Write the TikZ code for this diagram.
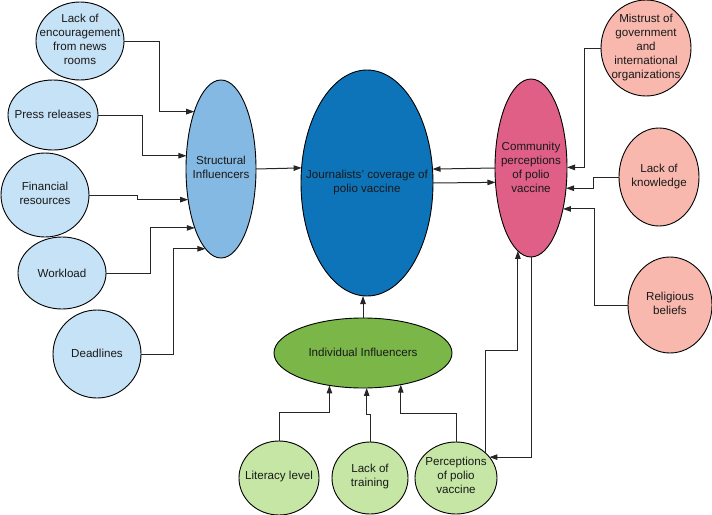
\documentclass[tikz,border=0pt]{standalone}
\usepackage{fontspec}
\setmainfont{Liberation Sans}
\usetikzlibrary{shapes.geometric,arrows.meta}
\definecolor{lblue}{HTML}{C6E2F6}
\definecolor{sblue}{HTML}{84B9E4}
\definecolor{jblue}{HTML}{0E74B9}
\definecolor{cpink}{HTML}{DF5F86}
\definecolor{lpink}{HTML}{F9B8AE}
\definecolor{igreen}{HTML}{7AB648}
\definecolor{lgreen}{HTML}{C6E6A6}
\begin{document}
\begin{tikzpicture}[x=1pt,y=-1pt,
  ell/.style={ellipse,draw=black,line width=0.9pt,inner sep=0pt,outer sep=0pt},
  lbl/.style={align=center,inner sep=0pt,font=\fontsize{11.6}{14}\selectfont,text=black!90},
  arr/.style={draw=black!85,line width=1pt,-{Triangle[length=8pt,width=5.5pt]}}]
\useasboundingbox (0,0) rectangle (712,514);
% left column
\node[ell,fill=lblue,minimum width=88pt,minimum height=78pt] (n1) at (80,41) {};
\node[lbl] (t1) at (80,39) {Lack of\\encouragement\\from news\\rooms};
\node[ell,fill=lblue,minimum width=90pt,minimum height=70pt] (n2) at (53,115) {};
\node[lbl] (t2) at (53,114) {Press releases};
\node[ell,fill=lblue,minimum width=88pt,minimum height=84pt] (n3) at (45,195) {};
\node[lbl] (t3) at (45,193) {Financial\\resources};
\node[ell,fill=lblue,minimum width=88pt,minimum height=72pt] (n4) at (62,273) {};
\node[lbl] (t4) at (62,273) {Workload};
\node[ell,fill=lblue,minimum width=88pt,minimum height=88pt] (n5) at (97,354) {};
\node[lbl] (t5) at (97,353) {Deadlines};
% centre
\node[ell,fill=sblue,minimum width=70pt,minimum height=178pt] (S) at (221,169) {};
\node[lbl] (tS) at (221,167) {Structural\\Influencers};
\node[ell,fill=jblue,minimum width=132pt,minimum height=226pt] (J) at (367,183) {};
\node[lbl] (tJ) at (367,182) {Journalists' coverage of\\polio vaccine};
\node[ell,fill=cpink,minimum width=72pt,minimum height=178pt] (C) at (531,168) {};
\node[lbl] (tC) at (531,167) {Community\\perceptions\\of polio\\vaccine};
% right column
\node[ell,fill=lpink,minimum width=90pt,minimum height=96pt] (M) at (646,48) {};
\node[lbl] (tM) at (646,47) {Mistrust of\\government\\and\\international\\organizations};
\node[ell,fill=lpink,minimum width=80pt,minimum height=98pt] (K) at (659,177) {};
\node[lbl] (tK) at (659,176) {Lack of\\knowledge};
\node[ell,fill=lpink,minimum width=84pt,minimum height=96pt] (R) at (670,305) {};
\node[lbl] (tR) at (670,303) {Religious\\beliefs};
% bottom
\node[ell,fill=igreen,minimum width=178pt,minimum height=70pt] (I) at (363,353) {};
\node[lbl] (tI) at (363,352) {Individual Influencers};
\node[ell,fill=lgreen,minimum width=80pt,minimum height=74pt] (L) at (279,478) {};
\node[lbl] (tL) at (279,476) {Literacy level};
\node[ell,fill=lgreen,minimum width=76pt,minimum height=72pt] (T) at (370,478) {};
\node[lbl] (tT) at (370,476) {Lack of\\training};
\node[ell,fill=lgreen,minimum width=82pt,minimum height=72pt] (P) at (456,478) {};
\node[lbl] (tP) at (456,475) {Perceptions\\of polio\\vaccine};
% connectors left
\draw[arr] (n1.east) -| ([xshift=-35pt]S.115.9) -- (S.115.9);
\draw[arr] (n2.east) -| ([xshift=-43.4pt]S.159.4) -- (S.159.4);
\draw[arr] (n3.east) -| ([xshift=-50.2pt]S.223.4) -- (S.223.4);
\draw[arr] (n4.east) -| ([xshift=-44.1pt]S.246.7) -- (S.246.7);
\draw[arr] (n5.east) -| ([xshift=-31.5pt]S.259.9) -- (S.259.9);
% connectors right
\draw[arr] (M.west) -| ([xshift=17pt]C.1.6) -- (C.1.6);
\draw[arr] (K.west) -| ([xshift=27pt]C.330.3) -- (C.330.3);
\draw[arr] (R.west) -| ([xshift=32pt]C.308.8) -- (C.308.8);
% middle
\draw[arr] (S.east) -- (J.167.9);
\draw[arr] (C.west) -- (J.12.9);
\draw[arr] (J.east) -- (C.202.9);
\draw[arr] (I.north) -- (I.north |- J.south);
% bottom
\draw[arr] (L.north) |- ([yshift=-27.5pt]I.224.6) -- (I.224.6);
\draw[arr] (T.north) |- ([yshift=-27pt]I.276.5) -- (I.276.5);
\draw[arr] (P.north) |- ([yshift=-28.4pt]I.320.3) -- (I.320.3);
\draw[arr] (P.41.3) |- ([yshift=-100pt]C.261.9) -- (C.261.9);
\draw[arr] (C.south) |- (P.32.2);
\end{tikzpicture}
\end{document}
